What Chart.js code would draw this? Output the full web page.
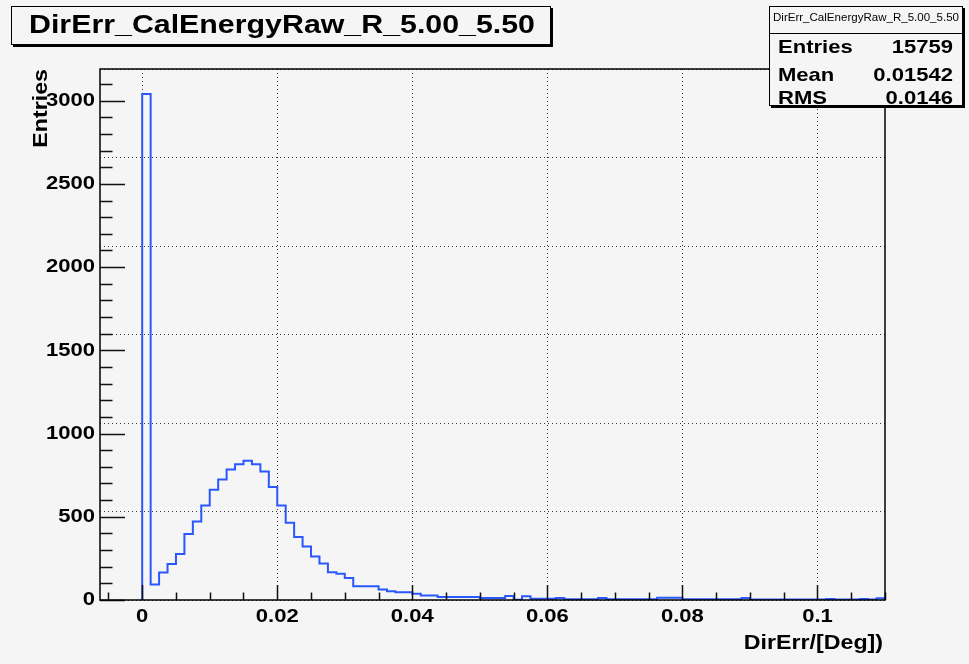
<!DOCTYPE html>
<html>
<head>
<meta charset="utf-8">
<script src="https://cdn.jsdelivr.net/npm/chart.js@4.4.1/dist/chart.umd.min.js"></script>
<style>
  html, body { margin: 0; padding: 0; background: #f5f5f5; }
  canvas { display: block; }
</style>
</head>
<body>
<canvas id="hist" width="969" height="664"></canvas>
<script>
// histogram DirErr_CalEnergyRaw_R_5.00_5.50, ROOT style

const histTitle = 'DirErr_CalEnergyRaw_R_5.00_5.50';
const xAxisTitle = 'DirErr/[Deg])';
const yAxisTitle = 'Entries';

// bins start at 0, width 0.00125, last edge at 0.11
const binStart = 0;
const binWidth = 0.00125;
const binCounts = [
  3040, 93, 165, 216, 276, 397, 472, 568, 663, 724,
  784, 816, 837, 816, 772, 679, 568, 464, 379, 322,
  262, 219, 166, 158, 132, 82, 82, 82, 63, 53,
  47, 47, 37, 27, 27, 18, 18, 18, 18, 18,
  12, 12, 12, 24, 2, 23, 7, 7, 7, 12,
  4, 4, 4, 4, 12, 4, 4, 4, 4, 4,
  4, 14, 14, 14, 4, 4, 4, 4, 4, 4,
  4, 12, 3, 3, 3, 3, 3, 3, 3, 3,
  3, 6, 3, 3, 3, 6, 3, 10
];

const xTickValues = [0, 0.02, 0.04, 0.06, 0.08, 0.1];
const xTickLabels = ['0', '0.02', '0.04', '0.06', '0.08', '0.1'];
const yTickValues = [0, 500, 1000, 1500, 2000, 2500, 3000];
const yTickLabels = ['0', '500', '1000', '1500', '2000', '2500', '3000'];

const statNames = ['Entries', 'Mean', 'RMS'];
const statValues = ['15759', '0.01542', '0.0146'];

const xMin = -0.00625, xMax = 0.11;
const yMin = 0, yMax = 3190;

// step points: left edge of each bin + closing point at the end
const points = [{ x: binStart, y: 0 }];
binCounts.forEach((c, i) => points.push({ x: binStart + i * binWidth, y: c }));
points.push({ x: binStart + binCounts.length * binWidth, y: binCounts[binCounts.length - 1] });

const BG = '#f5f5f5';
const FONT = '"Liberation Sans", Arial, sans-serif';
const STRETCH = 1.16;

// text is a bit wider than Liberation Sans in the original, stretch along the text
function drawText(ctx, s, x, y, size, align, opts) {
    opts = opts || {};
    ctx.save();
    ctx.font = (opts.weight || 'bold') + ' ' + size + 'px ' + FONT;
    ctx.fillStyle = '#000';
    ctx.textBaseline = opts.baseline || 'middle';
    ctx.textAlign = align;
    ctx.translate(x, y);
    if (opts.rotate) ctx.rotate(opts.rotate);
    let sx = STRETCH;
    if (opts.width) sx = opts.width / ctx.measureText(s).width;
    ctx.scale(sx, 1);
    ctx.fillText(s, 0, 0);
    ctx.restore();
}

function drawBox(ctx, x, y, w, h) {
    ctx.save();
    ctx.fillStyle = '#000';
    ctx.fillRect(x + 2, y + 2, w, h);
    ctx.fillStyle = BG;
    ctx.fillRect(x, y, w, h);
    ctx.strokeStyle = '#000';
    ctx.lineWidth = 1;
    ctx.strokeRect(x + 0.5, y + 0.5, w - 1, h - 1);
    ctx.restore();
}

const rootStyle = {
    id: 'rootStyle',
    beforeDraw(chart) {
        const ctx = chart.ctx;
        ctx.save();
        ctx.fillStyle = BG;
        ctx.fillRect(0, 0, chart.width, chart.height);
        ctx.restore();
    },
    afterDatasetsDraw(chart) {
        const ctx = chart.ctx;
        const a = chart.chartArea;
        const xs = chart.scales.x, ys = chart.scales.y;

        ctx.save();
        ctx.strokeStyle = '#111';
        ctx.lineWidth = 1.5;
        ctx.beginPath();
        // y ticks, inside the frame
        for (let v = 0; v <= yMax; v += 100) {
            const py = Math.round(ys.getPixelForValue(v)) + 0.5;
            const len = v % 500 === 0 ? 25 : 12.5;
            ctx.moveTo(a.left, py);
            ctx.lineTo(a.left + len, py);
        }
        // x ticks
        for (let k = -1; k <= 22; k++) {
            const v = k * 0.005;
            if (v < xMin || v > xMax) continue;
            const px = Math.round(xs.getPixelForValue(v)) + 0.5;
            const len = k % 4 === 0 ? 15 : 7.5;
            ctx.moveTo(px, a.bottom);
            ctx.lineTo(px, a.bottom - len);
        }
        ctx.stroke();

        // frame
        ctx.lineWidth = 1.5;
        ctx.strokeStyle = '#000';
        ctx.strokeRect(a.left, a.top, a.right - a.left, a.bottom - a.top);
        ctx.restore();
    },
    afterDraw(chart) {
        const ctx = chart.ctx;
        const a = chart.chartArea;
        const xs = chart.scales.x, ys = chart.scales.y;

        // tick labels
        yTickValues.forEach((v, i) => {
            drawText(ctx, yTickLabels[i], a.left - 5, ys.getPixelForValue(v), 19, 'right');
        });
        xTickValues.forEach((v, i) => {
            drawText(ctx, xTickLabels[i], xs.getPixelForValue(v), a.bottom + 17, 19, 'center');
        });

        // axis titles
        drawText(ctx, xAxisTitle, 883, 643, 20, 'right');
        drawText(ctx, yAxisTitle, 47, 69, 20, 'right', { rotate: -Math.PI / 2, baseline: 'alphabetic' });

        // title box
        drawBox(ctx, 11, 6, 540, 39);
        drawText(ctx, histTitle, 282, 26, 25, 'center', { width: 506 });

        // stats box
        const bx = 769, by = 6, bw = 194, bh = 100;
        drawBox(ctx, bx, by, bw, bh);
        ctx.save();
        ctx.strokeStyle = '#000';
        ctx.lineWidth = 1;
        ctx.beginPath();
        ctx.moveTo(bx, 33.5);
        ctx.lineTo(bx + bw, 33.5);
        ctx.stroke();
        ctx.restore();
        drawText(ctx, histTitle, bx + bw / 2, 18, 11, 'center', { width: 186, weight: 'normal' });
        const rowY = [48, 76, 99];
        statNames.forEach((n, i) => {
            drawText(ctx, n, 778, rowY[i], 19, 'left');
            drawText(ctx, statValues[i], 953, rowY[i], 19, 'right');
        });
    }
};

const canvas = document.getElementById('hist');
new Chart(canvas, {
    type: 'line',
    data: {
        datasets: [{
            label: histTitle,
            data: points,
            borderColor: '#2b57ff',
            borderWidth: 2,
            pointRadius: 0,
            stepped: true,
            fill: false
        }]
    },
    options: {
        responsive: false,
        animation: false,
        layout: { padding: { left: 0, top: 69, right: 84, bottom: 0 } },
        plugins: {
            legend: { display: false },
            tooltip: { enabled: false }
        },
        scales: {
            x: {
                type: 'linear',
                min: xMin,
                max: xMax,
                afterFit: s => { s.height = 64; },
                ticks: { display: false, stepSize: 0.02, includeBounds: false },
                grid: { color: '#333', lineWidth: 1, drawTicks: false },
                border: { display: false, dash: [1, 3] }
            },
            y: {
                type: 'linear',
                min: yMin,
                max: yMax,
                afterFit: s => { s.width = 100; },
                ticks: { display: false, stepSize: 500, includeBounds: false },
                grid: { color: '#333', lineWidth: 1, drawTicks: false },
                border: { display: false, dash: [1, 3] }
            }
        }
    },
    plugins: [rootStyle]
});
</script>
</body>
</html>
